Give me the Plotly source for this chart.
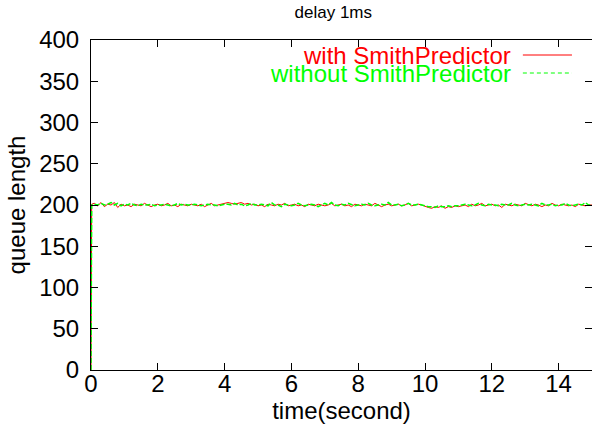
import plotly.graph_objects as go

# time axis (seconds): start point, quick rise, then 0.1 s samples up to 15 s
time_s = [0.0, 0.02] + [round(0.1 * i, 1) for i in range(1, 151)]

# queue length, with SmithPredictor
with_smith = [
    0, 201,
    202, 199, 203, 198, 201, 200, 203, 197, 201, 199,
    200, 198, 201, 200, 199, 202, 200, 198, 200, 201,
    199, 200, 202, 199, 200, 198, 201, 200, 199, 201,
    200, 199, 201, 198, 200, 202, 199, 200, 201, 202,
    203, 202, 201, 202, 203, 201, 202, 200, 201, 199,
    200, 198, 201, 200, 199, 201, 200, 202, 199, 200,
    201, 199, 200, 198, 201, 200, 199, 201, 200, 199,
    200, 202, 199, 200, 201, 199, 200, 198, 201, 200,
    199, 201, 200, 199, 202, 200, 198, 200, 201, 199,
    200, 201, 199, 200, 202, 199, 200, 201, 200, 198,
    197, 196, 198, 197, 199, 196, 198, 197, 199, 198,
    199, 200, 198, 201, 199, 200, 202, 199, 200, 201,
    199, 200, 197, 201, 200, 199, 201, 200, 199, 202,
    200, 199, 201, 200, 198, 200, 199, 202, 200, 199,
    201, 200, 199, 200, 198, 201, 200, 199, 200, 200,
]

# queue length, without SmithPredictor
without_smith = [
    0, 200,
    201, 200, 202, 200, 201, 203, 200, 202, 199, 201,
    200, 202, 200, 199, 201, 200, 200, 201, 199, 200,
    200, 201, 200, 199, 200, 202, 200, 201, 200, 200,
    201, 200, 199, 200, 201, 200, 200, 199, 200, 201,
    201, 200, 202, 200, 201, 199, 200, 202, 200, 200,
    201, 200, 199, 203, 200, 200, 198, 201, 200, 199,
    200, 202, 200, 199, 200, 201, 200, 198, 200, 202,
    200, 203, 200, 199, 201, 200, 202, 200, 199, 200,
    201, 200, 202, 200, 199, 200, 201, 200, 203, 200,
    200, 201, 199, 200, 202, 200, 200, 201, 200, 199,
    198, 198, 197, 199, 198, 198, 199, 198, 199, 199,
    200, 201, 200, 199, 200, 202, 200, 199, 201, 200,
    200, 199, 201, 200, 200, 202, 200, 199, 200, 201,
    200, 201, 200, 199, 202, 200, 200, 201, 199, 200,
    200, 202, 200, 199, 200, 201, 200, 203, 200, 200,
]

x_ticks = [0, 2, 4, 6, 8, 10, 12, 14]
y_ticks = [0, 50, 100, 150, 200, 250, 300, 350, 400]

FONT = "Liberation Sans, Arial, sans-serif"
RED = "#ff0000"
GREEN = "#00ff00"
FS = 24

fig = go.Figure()

fig.add_trace(go.Scatter(
    x=time_s, y=with_smith, mode="lines", name="with SmithPredictor",
    line=dict(color=RED, width=1),
))
fig.add_trace(go.Scatter(
    x=time_s, y=without_smith, mode="lines", name="without SmithPredictor",
    line=dict(color=GREEN, width=1.5, dash="5px,2px"),
))

fig.update_layout(
    width=592, height=430,
    margin=dict(l=91, r=0, t=40, b=60),
    paper_bgcolor="white", plot_bgcolor="white",
    showlegend=False,
    font=dict(family=FONT, size=FS, color="black"),
    title=dict(text="delay 1ms", x=0.563, xanchor="center", y=0.972, yanchor="middle",
               font=dict(size=17)),
)

fig.update_xaxes(
    range=[0, 15], tickvals=x_ticks, ticks="inside", ticklen=7, tickcolor="black",
    showline=True, linecolor="black", linewidth=1, mirror="allticks",
    showgrid=False, zeroline=False, automargin=False, ticklabelstandoff=-8,
    title=dict(text="time(second)", standoff=4, font=dict(size=FS)),
)
fig.update_yaxes(
    range=[0, 400], tickvals=y_ticks, ticks="inside", ticklen=7, tickcolor="black",
    showline=True, linecolor="black", linewidth=1, mirror="allticks",
    showgrid=False, zeroline=False, automargin=False, ticklabelstandoff=6,
    title=dict(text="queue length", standoff=6, font=dict(size=FS)),
)

# gnuplot-style key: text right-aligned, line sample on the right
legend_rows = [("with SmithPredictor", RED, "solid", 0.9545),
               ("without SmithPredictor", GREEN, "4px,3px", 0.9)]
for label, color, dash, yy in legend_rows:
    fig.add_annotation(text=label, xref="paper", yref="paper", x=0.842, y=yy,
                       xanchor="right", yanchor="middle", showarrow=False,
                       font=dict(size=FS, color=color))
    fig.add_shape(type="line", xref="paper", yref="paper", x0=0.862, x1=0.96,
                  y0=yy, y1=yy, line=dict(color=color, width=1, dash=dash))

# drop the browser's default page margin so the figure sits at the corner
fig.write_html("out.html", config={"displayModeBar": False},
               post_script="document.body.style.margin='0';")
